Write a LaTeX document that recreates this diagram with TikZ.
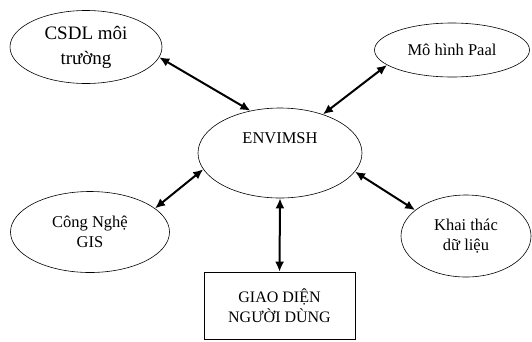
\documentclass[tikz,border=0pt]{standalone}
\usepackage{fontspec}
\setmainfont{Liberation Serif}
\usetikzlibrary{shapes.geometric,arrows.meta}

\begin{document}
\begin{tikzpicture}[x=1pt, y=-1pt,
  oval/.style={draw, ellipse, line width=0.6pt, inner sep=0pt, align=center, font=\fontsize{16.5}{20}\selectfont},
  uibox/.style={draw, line width=0.6pt, inner sep=0pt, align=center, font=\fontsize{16}{19.5}\selectfont},
  link/.style={{Latex[length=10pt,width=9pt]}-{Latex[length=10pt,width=9pt]}, line width=2pt}]
\useasboundingbox (0,0) rectangle (532,341);
% modules round the core
\node[oval, minimum width=152, minimum height=73, font=\fontsize{19}{25}\selectfont] (csdl) at (86,47) {CSDL môi\\trường};
\node[oval, minimum width=155, minimum height=54] (paal) at (452,50) {Mô hình Paal};
\node[oval, minimum width=164, minimum height=90, text depth=30pt] (env) at (280,153) {ENVIMSH};
\node[oval, minimum width=159, minimum height=81] (gis) at (90,232) {Công Nghệ\\GIS};
\node[oval, minimum width=130, minimum height=82] (khai) at (466,236) {Khai thác\\dữ liệu};
\node[uibox, minimum width=151, minimum height=67] (ui) at (279.5,305.5) {GIAO DIỆN\\NGƯỜI DÙNG};
% links
\draw[link] (csdl.-8) -- (env.125);
\draw[link] (paal.193) -- (env.42);
\draw[link] (gis.20) -- (env.192);
\draw[link] (khai.153) -- (env.-14);
\draw[link] (env.south) -- (ui.north);
\end{tikzpicture}
\end{document}
